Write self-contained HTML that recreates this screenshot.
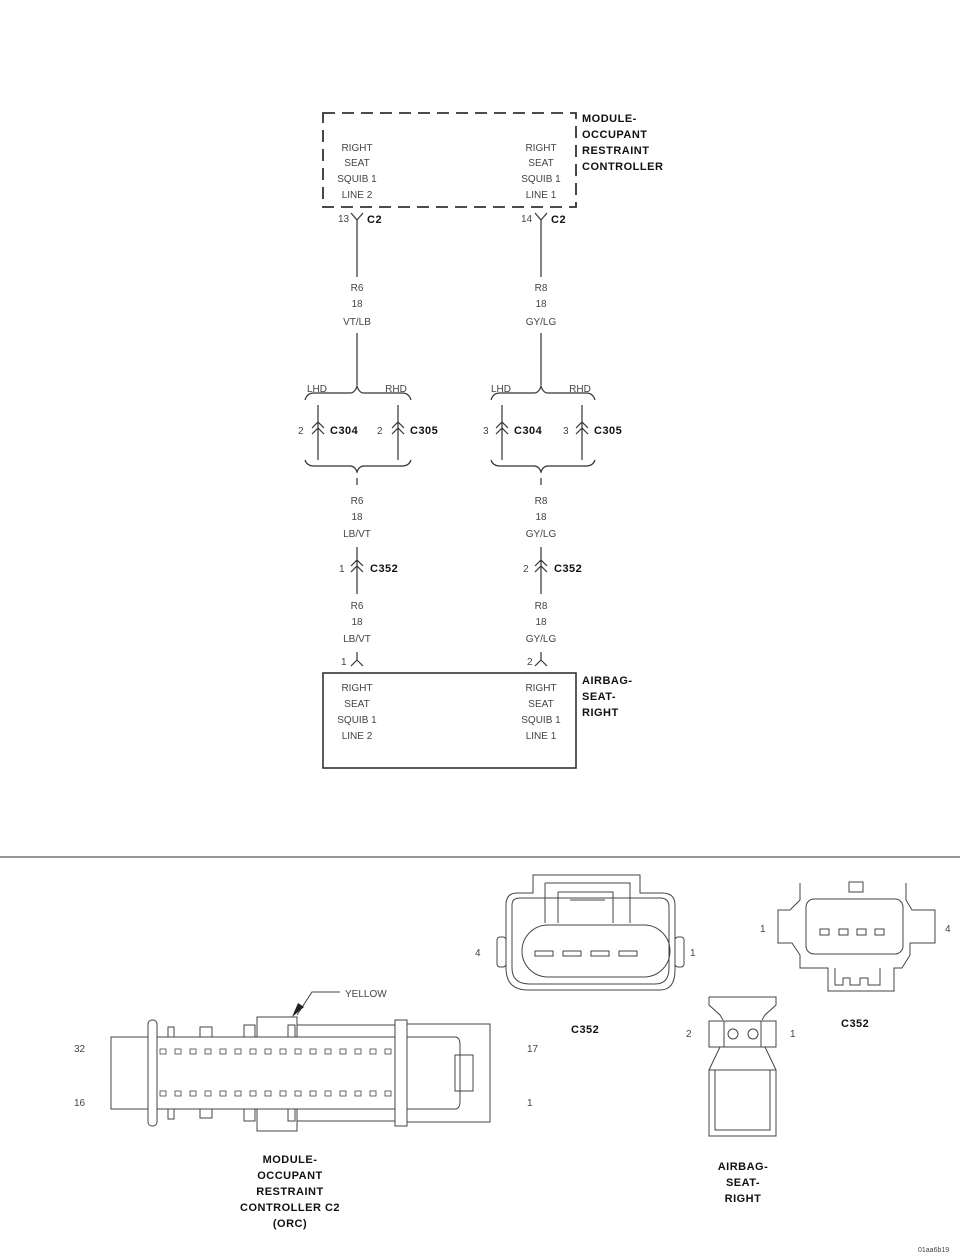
<!DOCTYPE html>
<html><head><meta charset="utf-8"><style>
html,body{margin:0;padding:0;background:#fff;}
svg{display:block;}
.t{font-family:"Liberation Sans",sans-serif;font-size:10px;fill:#444;}
.b{font-family:"Liberation Sans",sans-serif;font-size:11px;font-weight:bold;fill:#111;letter-spacing:0.5px;}
</style></head><body>
<svg width="960" height="1257" viewBox="0 0 960 1257" xmlns="http://www.w3.org/2000/svg">
<g fill="none" stroke="#333" stroke-width="1.2">
<rect x="323" y="113" width="253" height="94" stroke-dasharray="12,7" stroke-width="1.8"/>
<rect x="323" y="673" width="253" height="95" stroke-width="1.6"/>
<path d="M351 213 L357 220 L363 213 M357 220 V277 M357 333 V385"/>
<path d="M535 213 L541 220 L547 213 M541 220 V277 M541 333 V385"/>
<path d="M305 400 Q307 393 314 393 H350 Q355 393 357 386 Q359 393 364 393 H402 Q409 393 411 400"/>
<path d="M491 400 Q493 393 500 393 H534 Q539 393 541 386 Q543 393 548 393 H586 Q593 393 595 400"/>
<path d="M318 405 V460 M398 405 V460 M502 405 V460 M582 405 V460"/>
<path d="M305 460 Q307 466 314 466 H350 Q355 466 357 472 Q359 466 364 466 H402 Q409 466 411 460"/>
<path d="M491 460 Q493 466 500 466 H534 Q539 466 541 472 Q543 466 548 466 H586 Q593 466 595 460"/>
<path d="M357 478 V485 M541 478 V485"/>
<path d="M312 428 L318 422 L324 428 M312 434 L318 428 L324 434"/>
<path d="M392 428 L398 422 L404 428 M392 434 L398 428 L404 434"/>
<path d="M496 428 L502 422 L508 428 M496 434 L502 428 L508 434"/>
<path d="M576 428 L582 422 L588 428 M576 434 L582 428 L588 434"/>
<path d="M357 547 V594 M351 566 L357 560 L363 566 M351 572 L357 566 L363 572"/>
<path d="M541 547 V594 M535 566 L541 560 L547 566 M535 572 L541 566 L547 572"/>
<path d="M357 652 V660 L351 666 M357 660 L363 666"/>
<path d="M541 652 V660 L535 666 M541 660 L547 666"/>
<line x1="0" y1="857" x2="960" y2="857" stroke="#555"/>
</g>
<g class="t" text-anchor="middle">
<text x="357" y="151">RIGHT</text><text x="357" y="166">SEAT</text><text x="357" y="182">SQUIB 1</text><text x="357" y="198">LINE 2</text>
<text x="541" y="151">RIGHT</text><text x="541" y="166">SEAT</text><text x="541" y="182">SQUIB 1</text><text x="541" y="198">LINE 1</text>
<text x="357" y="291">R6</text><text x="357" y="307">18</text><text x="357" y="325">VT/LB</text>
<text x="541" y="291">R8</text><text x="541" y="307">18</text><text x="541" y="325">GY/LG</text>
<text x="317" y="392">LHD</text><text x="396" y="392">RHD</text><text x="501" y="392">LHD</text><text x="580" y="392">RHD</text>
<text x="357" y="504">R6</text><text x="357" y="520">18</text><text x="357" y="537">LB/VT</text>
<text x="541" y="504">R8</text><text x="541" y="520">18</text><text x="541" y="537">GY/LG</text>
<text x="357" y="609">R6</text><text x="357" y="625">18</text><text x="357" y="642">LB/VT</text>
<text x="541" y="609">R8</text><text x="541" y="625">18</text><text x="541" y="642">GY/LG</text>
<text x="357" y="691">RIGHT</text><text x="357" y="707">SEAT</text><text x="357" y="723">SQUIB 1</text><text x="357" y="739">LINE 2</text>
<text x="541" y="691">RIGHT</text><text x="541" y="707">SEAT</text><text x="541" y="723">SQUIB 1</text><text x="541" y="739">LINE 1</text>
</g>
<g class="t">
<text x="338" y="222">13</text><text x="521" y="222">14</text>
<text x="298" y="434">2</text><text x="377" y="434">2</text><text x="483" y="434">3</text><text x="563" y="434">3</text>
<text x="339" y="572">1</text><text x="523" y="572">2</text>
<text x="341" y="665">1</text><text x="527" y="665">2</text>
<text x="345" y="997">YELLOW</text>
<text x="74" y="1052">32</text><text x="74" y="1106">16</text>
<text x="527" y="1052">17</text><text x="527" y="1106">1</text>
<text x="475" y="956">4</text><text x="690" y="956">1</text>
<text x="760" y="932">1</text><text x="945" y="932">4</text>
<text x="686" y="1037">2</text><text x="790" y="1037">1</text>
<text x="918" y="1252" style="font-size:7px">01aa6b19</text>
</g>
<g class="b">
<text x="367" y="223">C2</text><text x="551" y="223">C2</text>
<text x="330" y="434">C304</text><text x="410" y="434">C305</text><text x="514" y="434">C304</text><text x="594" y="434">C305</text>
<text x="370" y="572">C352</text><text x="554" y="572">C352</text>
<text x="582" y="122">MODULE-</text><text x="582" y="138">OCCUPANT</text><text x="582" y="154">RESTRAINT</text><text x="582" y="170">CONTROLLER</text>
<text x="582" y="684">AIRBAG-</text><text x="582" y="700">SEAT-</text><text x="582" y="716">RIGHT</text>
<text x="571" y="1033">C352</text><text x="841" y="1027">C352</text>
</g>
<g class="b" text-anchor="middle">
<text x="290" y="1163">MODULE-</text><text x="290" y="1179">OCCUPANT</text><text x="290" y="1195">RESTRAINT</text><text x="290" y="1211">CONTROLLER C2</text><text x="290" y="1227">(ORC)</text>
<text x="743" y="1170">AIRBAG-</text><text x="743" y="1186">SEAT-</text><text x="743" y="1202">RIGHT</text>
</g>
<g fill="none" stroke="#444" stroke-width="1">
<rect x="111" y="1037" width="37" height="72"/>
<rect x="148" y="1020" width="9" height="106" rx="4"/>
<path d="M157 1037 H395 M157 1109 H395"/>
<rect x="395" y="1020" width="12" height="106"/>
<rect x="407" y="1024" width="83" height="98"/>
<path d="M407 1037 H455 Q460 1037 460 1045 V1101 Q460 1109 455 1109 H407"/>
<rect x="455" y="1055" width="18" height="36"/>
<path d="M168 1037 V1027 H174 V1037 M244 1037 V1025 H255 V1037 M288 1037 V1025 H295 V1037"/>
<rect x="200" y="1027" width="12" height="10"/>
<rect x="257" y="1017" width="40" height="20"/>
<path d="M297 1025 H395 M297 1121 H395"/>
<path d="M168 1109 V1119 H174 V1109 M244 1109 V1121 H255 V1109 M288 1109 V1121 H295 V1109"/>
<rect x="200" y="1109" width="12" height="9"/>
<rect x="257" y="1109" width="40" height="22"/>
<path d="M297 1015 L312 992 H340"/>
</g>
<path d="M292 1017 L298 1003 L304 1007 Z" fill="#222"/>
<g fill="none" stroke="#444" stroke-width="0.8">
<rect x="160" y="1049" width="6" height="5"/><rect x="175" y="1049" width="6" height="5"/><rect x="190" y="1049" width="6" height="5"/><rect x="205" y="1049" width="6" height="5"/><rect x="220" y="1049" width="6" height="5"/><rect x="235" y="1049" width="6" height="5"/><rect x="250" y="1049" width="6" height="5"/><rect x="265" y="1049" width="6" height="5"/><rect x="280" y="1049" width="6" height="5"/><rect x="295" y="1049" width="6" height="5"/><rect x="310" y="1049" width="6" height="5"/><rect x="325" y="1049" width="6" height="5"/><rect x="340" y="1049" width="6" height="5"/><rect x="355" y="1049" width="6" height="5"/><rect x="370" y="1049" width="6" height="5"/><rect x="385" y="1049" width="6" height="5"/>
<rect x="160" y="1091" width="6" height="5"/><rect x="175" y="1091" width="6" height="5"/><rect x="190" y="1091" width="6" height="5"/><rect x="205" y="1091" width="6" height="5"/><rect x="220" y="1091" width="6" height="5"/><rect x="235" y="1091" width="6" height="5"/><rect x="250" y="1091" width="6" height="5"/><rect x="265" y="1091" width="6" height="5"/><rect x="280" y="1091" width="6" height="5"/><rect x="295" y="1091" width="6" height="5"/><rect x="310" y="1091" width="6" height="5"/><rect x="325" y="1091" width="6" height="5"/><rect x="340" y="1091" width="6" height="5"/><rect x="355" y="1091" width="6" height="5"/><rect x="370" y="1091" width="6" height="5"/><rect x="385" y="1091" width="6" height="5"/>
</g>
<g fill="none" stroke="#444" stroke-width="1">
<path d="M533 875 V893 H517 Q506 893 506 905 V968 Q506 990 528 990 H660 Q675 990 675 970 V905 Q675 893 662 893 H640 V875 Z"/>
<path d="M512 905 Q512 898 520 898 H660 Q669 898 669 907 V968 Q669 984 655 984 H530 Q512 984 512 968 Z"/>
<rect x="497" y="937" width="9" height="30" rx="3"/><rect x="675" y="937" width="9" height="30" rx="3"/>
<rect x="522" y="925" width="148" height="52" rx="26"/>
<path d="M545 883 H630 V923 M545 883 V923 M558 892 H613 V923 M558 892 V923 M570 900 H605"/>
<rect x="535" y="951" width="18" height="5"/><rect x="563" y="951" width="18" height="5"/><rect x="591" y="951" width="18" height="5"/><rect x="619" y="951" width="18" height="5"/>
</g>
<g fill="none" stroke="#444" stroke-width="1">
<path d="M800 883 V900 L790 910 H778 V943 H792 L800 955 V968 H828 V991 H894 V968 H902 L910 955 V943 H935 V910 H912 L906 900 V883"/>
<rect x="806" y="899" width="97" height="55" rx="8"/>
<rect x="849" y="882" width="14" height="10"/>
<path d="M835 968 V985 H843 V978 H850 V985 H860 V978 H868 V985 H880 V968"/>
<rect x="820" y="929" width="9" height="6"/><rect x="839" y="929" width="9" height="6"/><rect x="857" y="929" width="9" height="6"/><rect x="875" y="929" width="9" height="6"/>
</g>
<g fill="none" stroke="#444" stroke-width="1">
<path d="M709 997 H776 V1005 L765 1015 L762 1020 M709 997 V1005 L720 1015 L723 1020"/>
<rect x="709" y="1021" width="67" height="26"/>
<rect x="724" y="1021" width="37" height="26"/>
<circle cx="733" cy="1034" r="5"/><circle cx="753" cy="1034" r="5"/>
<path d="M720 1047 L709 1070 M765 1047 L776 1070"/>
<rect x="709" y="1070" width="67" height="66"/>
<path d="M715 1070 V1130 H770 V1070"/>
</g>
</svg>
</body></html>
